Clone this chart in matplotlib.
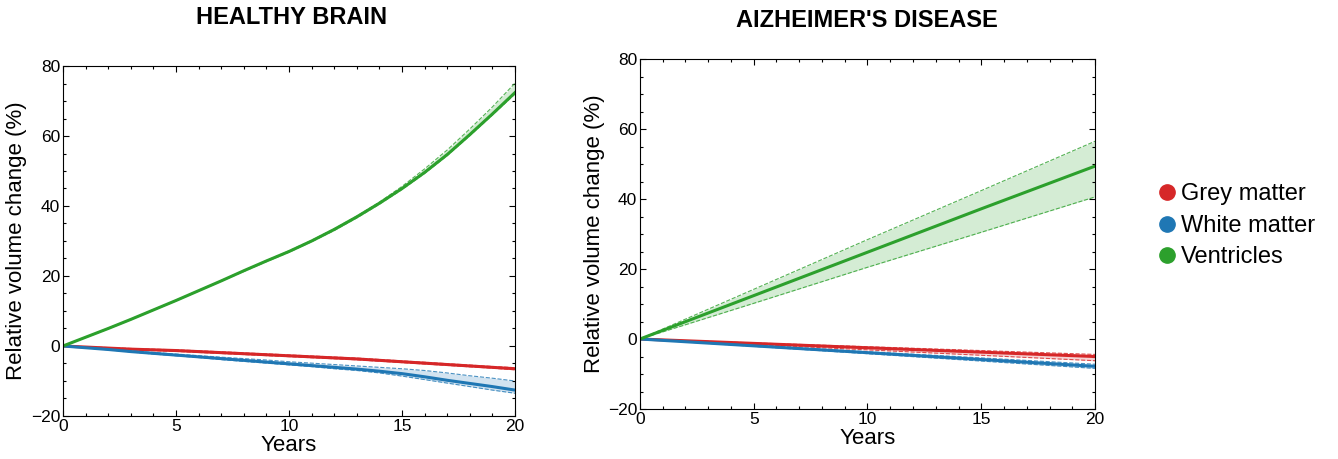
import matplotlib
matplotlib.use("Agg")
import matplotlib.pyplot as plt
from matplotlib.lines import Line2D
from matplotlib.ticker import MultipleLocator

plt.rcParams['font.family'] = ['Liberation Sans', 'DejaVu Sans']

# healthy brain, read per year
years_h = list(range(21))
h_grey = [0, -0.3, -0.6, -0.9, -1.1, -1.3, -1.6, -1.9, -2.2, -2.5, -2.8,
          -3.1, -3.4, -3.7, -4.1, -4.5, -4.9, -5.3, -5.7, -6.1, -6.5]
h_grey_hi = [0, -0.2, -0.45, -0.7, -0.9, -1.1, -1.35, -1.65, -1.95, -2.25, -2.55,
             -2.85, -3.15, -3.45, -3.85, -4.25, -4.65, -5.05, -5.45, -5.85, -6.2]
h_grey_lo = [0, -0.4, -0.75, -1.1, -1.3, -1.55, -1.85, -2.15, -2.45, -2.75, -3.05,
             -3.35, -3.65, -3.95, -4.35, -4.75, -5.15, -5.55, -5.95, -6.35, -6.8]
h_white = [0, -0.5, -1.0, -1.6, -2.1, -2.6, -3.1, -3.6, -4.1, -4.6, -5.1,
           -5.6, -6.1, -6.6, -7.2, -7.9, -8.8, -9.8, -10.7, -11.6, -12.6]
h_white_hi = [0, -0.45, -0.9, -1.4, -1.85, -2.3, -2.75, -3.2, -3.6, -4.0, -4.5,
              -4.9, -5.3, -5.7, -6.1, -6.5, -7.0, -7.7, -8.5, -9.2, -10.0]
h_white_lo = [0, -0.55, -1.1, -1.7, -2.3, -2.8, -3.3, -3.9, -4.4, -4.9, -5.4,
              -5.9, -6.5, -7.0, -7.7, -8.6, -9.6, -10.6, -11.6, -12.6, -13.5]
h_vent = [0, 2.5, 5.0, 7.6, 10.3, 13.0, 15.8, 18.6, 21.5, 24.3, 27.0,
          30.0, 33.3, 36.9, 40.8, 45.0, 49.6, 54.7, 60.4, 66.3, 72.4]
h_vent_hi = [0, 2.6, 5.1, 7.7, 10.4, 13.1, 15.9, 18.7, 21.6, 24.4, 27.2,
             30.2, 33.5, 37.1, 41.1, 45.6, 50.6, 56.0, 62.0, 68.3, 75.1]
h_vent_lo = [0, 2.4, 4.9, 7.5, 10.2, 12.9, 15.7, 18.5, 21.3, 24.1, 26.8,
             29.8, 33.0, 36.6, 40.5, 44.7, 49.3, 54.4, 60.1, 66.0, 72.0]

# alzheimer's disease, near-linear
years_a = [0, 5, 10, 15, 20]
a_grey = [0, -1.25, -2.5, -3.75, -5.0]
a_grey_hi = [0, -1.1, -2.2, -3.3, -4.4]
a_grey_lo = [0, -1.55, -3.1, -4.65, -6.2]
a_white = [0, -1.95, -3.9, -5.85, -7.8]
a_white_hi = [0, -1.8, -3.6, -5.4, -7.2]
a_white_lo = [0, -2.1, -4.2, -6.3, -8.4]
a_vent = [0, 12.4, 24.8, 37.2, 49.4]
a_vent_hi = [0, 14.2, 28.4, 42.4, 56.5]
a_vent_lo = [0, 10.2, 20.5, 30.5, 40.6]

labels = ['Grey matter', 'White matter', 'Ventricles']
colors = ['#d62728', '#1f77b4', '#2ca02c']

fig = plt.figure(figsize=(13.38, 4.59), dpi=100)
ax1 = fig.add_axes([0.0471, 0.0937, 0.3378, 0.7625])
ax2 = fig.add_axes([0.4783, 0.1089, 0.3401, 0.7625])

panels = [
    (ax1, years_h, [(h_grey, h_grey_lo, h_grey_hi), (h_white, h_white_lo, h_white_hi),
                    (h_vent, h_vent_lo, h_vent_hi)]),
    (ax2, years_a, [(a_grey, a_grey_lo, a_grey_hi), (a_white, a_white_lo, a_white_hi),
                    (a_vent, a_vent_lo, a_vent_hi)]),
]

for ax, x, series in panels:
    for (m, lo, hi), col in zip(series, colors):
        ax.fill_between(x, lo, hi, color=col, alpha=0.2, lw=0)
        ax.plot(x, lo, color=col, lw=0.8, ls='--', alpha=0.8)
        ax.plot(x, hi, color=col, lw=0.8, ls='--', alpha=0.8)
        ax.plot(x, m, color=col, lw=2.2)
    ax.set_xlim(0, 20)
    ax.set_ylim(-20, 80)
    ax.xaxis.set_major_locator(MultipleLocator(5))
    ax.xaxis.set_minor_locator(MultipleLocator(1))
    ax.yaxis.set_major_locator(MultipleLocator(20))
    ax.yaxis.set_minor_locator(MultipleLocator(5))
    ax.tick_params(which='both', direction='in', top=True, right=True,
                   labelsize=12.5, pad=2, width=0.8)
    ax.tick_params(which='major', length=4)
    ax.tick_params(which='minor', length=2.2)
    for s in ax.spines.values():
        s.set_linewidth(0.8)
    ax.set_xlabel('Years', fontsize=16)
    ax.set_ylabel('Relative volume change (%)', fontsize=16)

ax1.xaxis.set_label_coords(0.5, -0.055)
ax1.yaxis.set_label_coords(-0.08, 0.5)
ax2.xaxis.set_label_coords(0.5, -0.055)
ax2.yaxis.set_label_coords(-0.077, 0.5)

fig.text(0.218, 0.961, 'HEALTHY BRAIN', ha='center', va='center',
         fontsize=17, fontweight='bold')
fig.text(0.648, 0.956, "AIZHEIMER'S DISEASE", ha='center', va='center',
         fontsize=17, fontweight='bold')

handles = [Line2D([], [], marker='o', ls='', color=c, markersize=11) for c in colors]
fig.legend(handles, labels, loc='center left', bbox_to_anchor=(0.856, 0.508),
           frameon=False, fontsize=17, handletextpad=0.1, labelspacing=0.4,
           handlelength=1.0, borderaxespad=0)

plt.savefig('out.png', dpi=100)
